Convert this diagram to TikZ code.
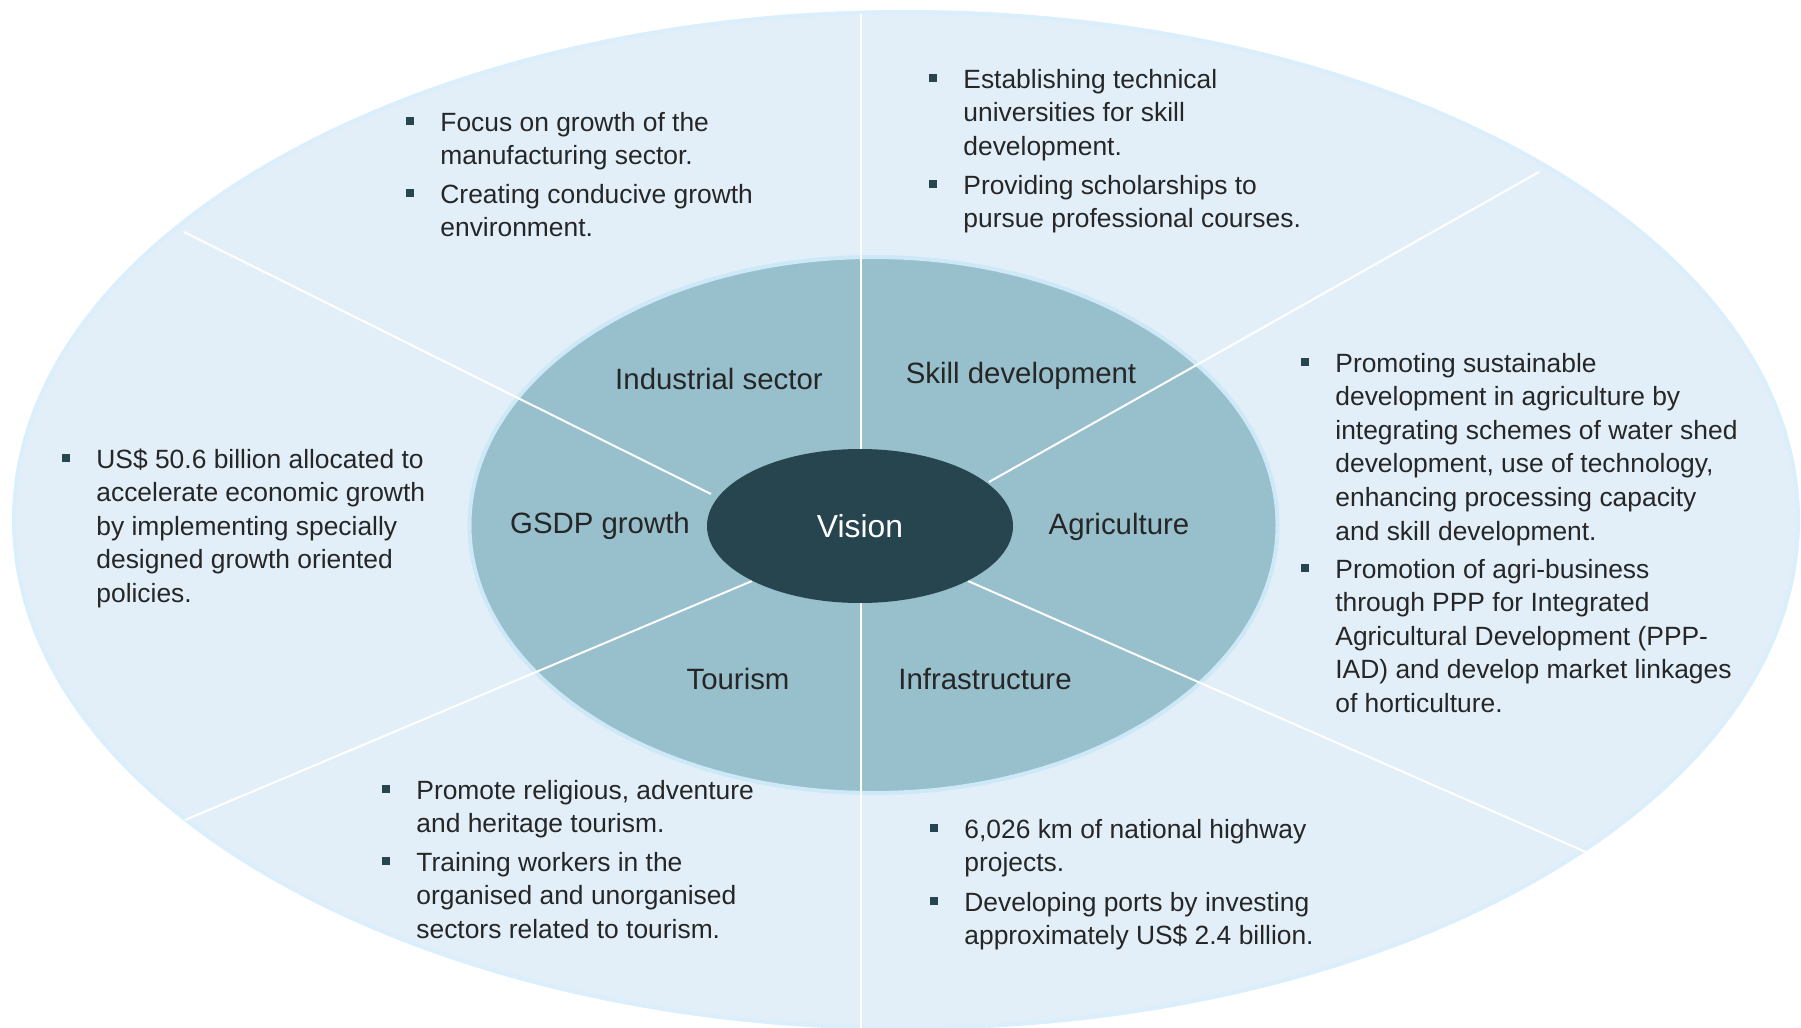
\documentclass[tikz,border=0pt]{standalone}
\usepackage{fontspec}
\setmainfont{Liberation Sans}
\usetikzlibrary{shapes.geometric}

\definecolor{ringfill}{HTML}{E2EFF8}
\definecolor{ringrim}{HTML}{DAEEFB}
\definecolor{corefill}{HTML}{97BFCC}
\definecolor{corerim}{HTML}{CDE8F7}
\definecolor{visionfill}{HTML}{27454E}
\definecolor{inkc}{HTML}{262626}
\definecolor{bulc}{HTML}{27454E}

% square bullet hung in the left margin of an item
\newcommand\itemmark{\leavevmode\llap{\textcolor{bulc}{\rule[3pt]{4pt}{4pt}}\hspace{13pt}}}

\begin{document}
\begin{tikzpicture}[x=0.5pt,y=-0.5pt,
  bodytext/.style={inner sep=0pt, anchor=base west, text=inkc,
    font=\fontsize{13.2pt}{16.8pt}\selectfont},
  ringlabel/.style={inner sep=0pt, anchor=base, text=inkc,
    font=\fontsize{14.7pt}{17pt}\selectfont},
  spoke/.style={draw=white, line width=1pt},
  oval/.style={ellipse, inner sep=0pt}]

\useasboundingbox (0,0) rectangle (1801,1028);
\fill[white] (0,0) rectangle (1801,1028);

% outer ring and inner ring
\node[oval, fill=ringfill, draw=ringrim, line width=2pt,
  minimum width=892pt, minimum height=508pt] (ring) at (906,520) {};
\node[oval, fill=corefill, draw=corerim, line width=2pt,
  minimum width=404pt, minimum height=268pt] (core) at (873.5,525) {};

% spoke end points
\coordinate (vt) at (861,449);  \coordinate (ot) at (861,14);
\coordinate (vb) at (861,603);  \coordinate (ob) at (861,1028);
\coordinate (vul) at (711,494); \coordinate (oul) at (184,232);
\coordinate (vur) at (989,482); \coordinate (our) at (1539,172);
\coordinate (vll) at (752,581); \coordinate (oll) at (185,820);
\coordinate (vlr) at (968,581); \coordinate (olr) at (1588,853);

\draw[spoke] (vt) -- (ot);
\draw[spoke] (vb) -- (ob);
\draw[spoke] (vul) -- (oul);
\draw[spoke] (vur) -- (our);
\draw[spoke] (vll) -- (oll);
\draw[spoke] (vlr) -- (olr);

% centre
\node[oval, fill=visionfill, text=white, minimum width=153pt, minimum height=77pt,
  font=\fontsize{15.9pt}{18pt}\selectfont] (vision) at (860,526) {Vision};

% sector names on the inner ring
\node[ringlabel] (lind) at (719,389) {Industrial sector};
\node[ringlabel] (lskill) at (1021,383) {Skill development};
\node[ringlabel] (lgsdp) at (600,533) {GSDP growth};
\node[ringlabel] (lagri) at (1119,534) {Agriculture};
\node[ringlabel] (ltour) at (738,689) {Tourism};
\node[ringlabel] (linfra) at (985,689) {Infrastructure};

% Industrial sector
\node[bodytext] (ind1) at (440,131) {\parbox[t]{300pt}{\itemmark Focus on growth of the\\manufacturing sector.}};
\node[bodytext] (ind2) at (440,203) {\parbox[t]{300pt}{\itemmark Creating conducive growth\\environment.}};

% Skill development
\node[bodytext] (sk1) at (963,88) {\parbox[t]{300pt}{\itemmark Establishing technical\\universities for skill\\development.}};
\node[bodytext] (sk2) at (963,194) {\parbox[t]{300pt}{\itemmark Providing scholarships to\\pursue professional courses.}};

% Agriculture
\node[bodytext] (ag1) at (1335,372) {\parbox[t]{300pt}{\itemmark Promoting sustainable\\development in agriculture by\\integrating schemes of water shed\\development, use of technology,\\enhancing processing capacity\\and skill development.}};
\node[bodytext] (ag2) at (1335,578) {\parbox[t]{300pt}{\itemmark Promotion of agri-business\\through PPP for Integrated\\Agricultural Development (PPP-\\IAD) and develop market linkages\\of horticulture.}};

% GSDP growth
\node[bodytext] (gs1) at (96,468) {\parbox[t]{300pt}{\itemmark US\$ 50.6 billion allocated to\\accelerate economic growth\\by implementing specially\\designed growth oriented\\policies.}};

% Tourism
\node[bodytext] (to1) at (416,799) {\parbox[t]{300pt}{\itemmark Promote religious, adventure\\and heritage tourism.}};
\node[bodytext] (to2) at (416,871) {\parbox[t]{300pt}{\itemmark Training workers in the\\organised and unorganised\\sectors related to tourism.}};

% Infrastructure
\node[bodytext] (in1) at (964,838) {\parbox[t]{300pt}{\itemmark 6,026 km of national highway\\projects.}};
\node[bodytext] (in2) at (964,911) {\parbox[t]{300pt}{\itemmark Developing ports by investing\\approximately US\$ 2.4 billion.}};

\end{tikzpicture}
\end{document}
